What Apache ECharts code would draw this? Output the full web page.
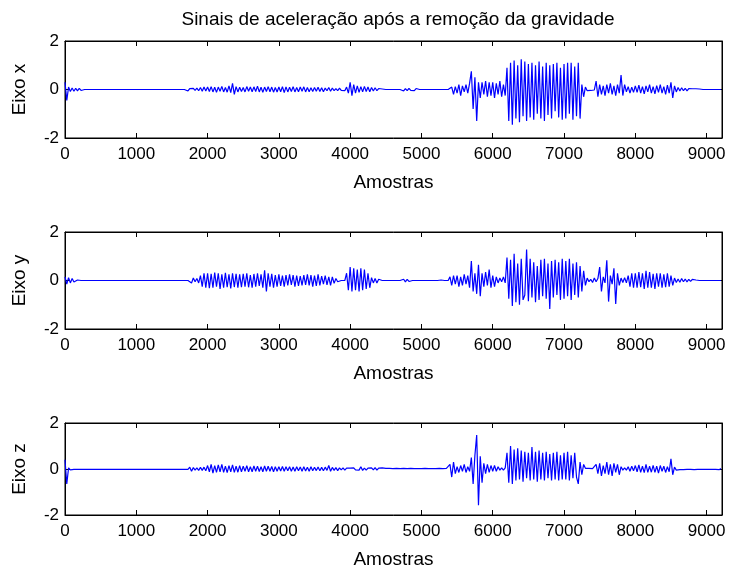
<!DOCTYPE html>
<html>
<head>
<meta charset="utf-8">
<title>Sinais de aceleração</title>
<script src="https://cdn.jsdelivr.net/npm/echarts@6/dist/echarts.min.js"></script>
<style>
  html, body { margin: 0; padding: 0; background: #fff; }
  #chart { width: 730px; height: 570px; }
</style>
</head>
<body>
<div id="chart"></div>
<script>
// Accelerometer signals with gravity removed, decimated to one value every SAMPLE_STEP samples.
const SAMPLE_STEP = 25;
const SAMPLE_COUNT = 9216;

const xTicks = [0, 1000, 2000, 3000, 4000, 5000, 6000, 7000, 8000, 9000];
const yTicks = [-2, 0, 2];
const axisTitles = ['Eixo x', 'Eixo y', 'Eixo z'];

// Eixo x (each row covers 500 samples)
const accelX = [
  0.3,-0.45,0.1,-0.08,0.06,-0.07,0.05,-0.06,0.05,-0.04,0,0,0,0,0,0,0,0,0,0,
  0,0,0,0,0,0,0,0,0,0,0,0,0,0,0,0,0,0,0,0,
  0,0,0,0,0,0,0,0,0,0,0,0,0,0,0,0,0,0,0,0,
  0,0,0,0,0,0,0,0,0.05,-0.06,0.04,-0.03,0.05,-0.04,0.06,-0.05,0.08,-0.07,0.1,-0.06,
  0.1,-0.08,0.12,-0.1,0.09,-0.12,0.1,-0.07,0.13,-0.1,0.08,-0.11,0.15,-0.13,0.25,-0.2,0.12,-0.1,0.09,-0.08,
  0.08,-0.1,0.12,-0.07,0.1,-0.09,0.11,-0.08,0.14,-0.1,0.09,-0.12,0.1,-0.08,0.12,-0.09,0.1,-0.11,0.08,-0.1,
  0.1,-0.09,0.12,-0.13,0.11,-0.1,0.09,-0.08,0.12,-0.1,0.08,-0.09,0.1,-0.07,0.11,-0.1,0.08,-0.09,0.07,-0.08,
  0.08,-0.07,0.09,-0.08,0.07,-0.09,0.06,-0.05,0.08,-0.07,0.06,-0.05,0.04,-0.05,0.06,-0.04,0.03,-0.05,0.1,-0.15,
  0.3,-0.25,0.2,-0.15,0.15,-0.12,0.12,-0.1,0.13,-0.08,0.1,-0.09,0.08,-0.06,0.07,-0.05,0.04,-0.03,0.02,0,
  0,0,0,0,0,0,0,0,0,0.05,-0.06,0.04,-0.05,0.05,-0.04,0.03,-0.05,0.04,-0.02,0,
  0,0,0,0,0,0,0,0,0,0,0,0,0,0,0,0,0,0.1,-0.2,0.12,
  -0.15,0.2,-0.25,0.15,-0.1,0.2,-0.15,0.25,0.75,-0.8,0.5,-1.3,0.3,-0.35,0.3,-0.2,0.35,-0.3,0.3,-0.25,
  0.3,-0.35,0.25,-0.2,0.35,-0.3,0.2,-0.25,0.9,-1.3,1.1,-1.45,1.2,-1.2,1.0,-1.35,1.25,-1.1,1.15,-1.3,
  1.05,-1.15,1.1,-1.25,1.0,-1.0,1.15,-1.2,0.95,-1.3,1.1,-1.05,1.0,-1.2,1.05,-0.9,1.1,-1.15,0.9,-1.25,
  1.05,-1.2,1.1,-1.0,1.1,-1.25,0.95,-1.1,1.1,-1.2,0.2,-0.3,0.1,-0.05,0.03,-0.04,0.03,-0.02,0.35,-0.3,
  0.2,-0.2,0.15,-0.25,0.2,-0.15,0.25,-0.2,0.15,-0.25,0.2,-0.15,0.6,-0.25,0.2,-0.1,0.12,-0.15,0.1,-0.12,
  0.15,-0.12,0.18,-0.15,0.12,-0.18,0.15,-0.1,0.2,-0.15,0.12,-0.18,0.16,-0.12,0.2,-0.15,0.12,-0.2,0.18,-0.15,
  0.3,-0.35,0.15,-0.1,0.08,-0.06,0.07,-0.05,0.05,-0.06,0.04,-0.03,0.03,-0.04,0.03,-0.02,0.02,0,0,0,
  0,0,0,0,0,0,0,0,0
];

// Eixo y
const accelY = [
  0.15,-0.15,0.12,-0.1,0.08,-0.06,-0.05,0.02,0,0,0,0,0,0,0,0,0,0,0,0,
  0,0,0,0,0,0,0,0,0,0,0,0,0,0,0,0,0,0,0,0,
  0,0,0,0,0,0,0,0,0,0,0,0,0,0,0,0,0,0,0,0,
  0,0,0,0,0,0,0,0,0,0,0.05,-0.1,0.1,-0.05,0.08,-0.1,0.2,-0.25,0.3,-0.3,
  0.3,-0.32,0.28,-0.3,0.33,-0.25,0.3,-0.35,0.25,-0.3,0.32,-0.28,0.25,-0.33,0.3,-0.27,0.28,-0.3,0.25,-0.28,
  0.28,-0.25,0.3,-0.28,0.22,-0.3,0.27,-0.25,0.3,-0.22,0.25,-0.3,0.42,-0.45,0.3,-0.25,0.28,-0.3,0.22,-0.25,
  0.25,-0.22,0.2,-0.25,0.22,-0.2,0.25,-0.18,0.22,-0.25,0.2,-0.22,0.18,-0.2,0.22,-0.18,0.25,-0.2,0.22,-0.25,
  0.2,-0.22,0.25,-0.2,0.18,-0.15,0.2,-0.18,0.15,-0.2,0.15,-0.12,0.08,-0.05,0.02,0,0,0,0.3,-0.4,
  0.55,-0.45,0.5,-0.4,0.45,-0.45,0.5,-0.4,0.45,-0.35,0.3,-0.3,0.12,-0.1,0.08,-0.1,0.05,-0.03,0,0,
  0,0,0,0,0,0,0,0,0,0,0.05,-0.06,0.05,-0.04,0,0,0,0,0,0,
  0,0,0,0,0,0,0,0,0,0,0,0.02,0,0,0,0,0.15,-0.2,0.2,-0.15,
  0.2,-0.25,0.15,-0.2,0.25,-0.15,0.2,-0.3,0.8,-0.45,0.3,-0.55,0.65,-0.65,0.3,-0.25,0.35,-0.2,0.45,-0.3,
  0.2,-0.25,0.15,-0.1,0.1,-0.05,0.15,-0.1,0.95,-0.75,0.85,-1.05,1.1,-0.9,0.7,-1.0,0.9,-0.8,-0.6,1.28,
  -0.85,0.9,-0.7,0.75,-0.9,0.6,-0.8,0.85,-0.65,0.9,-0.75,0.7,-1.17,0.8,-0.7,0.85,-0.6,0.75,-0.8,0.9,
  -0.75,0.8,-0.65,0.9,-0.8,0.7,-0.6,0.75,-0.7,0.6,-0.45,0.4,-0.2,0.1,-0.05,0.05,-0.08,0.1,-0.05,0.08,
  0.55,-0.45,0.15,-0.1,0.83,-0.87,0.2,-0.15,0.5,-0.97,0.3,-0.2,0.1,-0.08,0.12,-0.1,0.2,-0.25,0.3,-0.3,
  0.3,-0.3,0.35,-0.28,0.3,-0.35,0.4,-0.3,0.35,-0.3,0.28,-0.35,0.3,-0.25,0.3,-0.3,0.25,-0.28,0.3,-0.25,
  0.2,-0.2,0.1,-0.08,0.06,-0.07,0.08,-0.05,0.06,-0.06,0.05,-0.04,0.05,-0.03,0.02,-0.02,0,0,0,0,
  0,0,0,0,0,0,0,0,0
];

// Eixo z
const accelZ = [
  0.4,-0.65,0.05,-0.04,0.03,-0.02,0.02,-0.02,0.02,-0.01,0.02,-0.02,0.01,-0.02,0.02,-0.01,0.02,-0.02,0.01,-0.02,
  0.02,-0.01,0.02,-0.02,0.01,-0.02,0.02,-0.01,0.01,-0.02,0.02,-0.01,0.02,-0.02,0.01,-0.01,0.02,-0.02,0.01,-0.02,
  0.02,-0.01,0.02,-0.02,0.01,-0.02,0.02,-0.01,0.01,-0.02,0.02,-0.01,0.02,-0.02,0.01,-0.01,0.02,-0.02,0.01,-0.02,
  0.02,-0.01,0.02,-0.02,0.01,-0.02,0.02,-0.01,0.01,-0.02,0.08,-0.1,0.06,-0.05,0.05,-0.06,0.07,-0.06,0.08,-0.08,
  0.15,-0.12,0.2,-0.18,0.15,-0.15,0.18,-0.12,0.2,-0.15,0.12,-0.16,0.15,-0.12,0.18,-0.15,0.12,-0.14,0.15,-0.12,
  0.12,-0.1,0.14,-0.12,0.1,-0.12,0.13,-0.1,0.12,-0.11,0.1,-0.12,0.13,-0.1,0.12,-0.1,0.11,-0.12,0.1,-0.1,
  0.1,-0.09,0.11,-0.1,0.1,-0.08,0.1,-0.1,0.09,-0.1,0.1,-0.08,0.09,-0.1,0.1,-0.09,0.08,-0.1,0.1,-0.08,
  0.08,-0.07,0.09,-0.08,0.07,-0.08,0.08,-0.06,0.15,-0.1,0.07,-0.06,0.06,-0.07,0.05,-0.04,0.05,-0.05,0.04,-0.04,
  0.04,-0.03,0.05,-0.04,0.03,-0.05,0.1,-0.06,0.04,-0.05,0.04,-0.03,0.05,-0.04,0.06,-0.05,0.04,-0.04,0.05,-0.03,
  0.03,-0.02,0.03,-0.03,0.02,-0.03,0.03,-0.02,0.02,-0.03,0.03,-0.02,0.02,-0.02,0.03,-0.02,0.02,-0.03,0.02,-0.02,
  0.02,-0.02,0.03,-0.02,0.02,-0.02,0.02,-0.03,0.02,-0.02,0.03,-0.02,0.02,-0.02,0.03,-0.02,0.2,-0.35,0.3,-0.2,
  0.1,-0.15,0.15,-0.1,0.2,-0.15,0.1,-0.1,0.5,-0.65,0.6,1.48,-1.58,0.55,-0.6,0.25,-0.2,0.2,-0.15,0.15,
  -0.1,0.15,-0.1,0.1,-0.05,0.05,-0.05,0.05,0.7,-0.6,1.0,-0.65,0.85,-0.5,0.9,-0.45,0.8,-0.55,0.75,-0.4,
  0.7,-0.5,0.95,-0.45,0.75,-0.55,0.8,-0.45,0.7,-0.5,0.75,-0.4,0.65,-0.5,0.7,-0.45,0.75,-0.5,0.6,-0.45,
  0.7,-0.45,0.75,-0.5,0.6,-0.4,0.7,-0.35,-0.65,0.3,-0.25,0.2,0.03,-0.03,0.03,-0.02,0.02,-0.03,0.2,-0.2,
  0.25,-0.3,0.15,-0.2,0.3,-0.25,0.2,-0.3,0.25,-0.15,0.2,-0.25,0.1,-0.05,0.05,-0.05,0.1,-0.1,0.12,-0.08,
  0.15,-0.12,0.18,-0.15,0.12,-0.16,0.2,-0.15,0.12,-0.14,0.16,-0.15,0.12,-0.18,0.15,-0.1,0.12,-0.15,0.1,-0.12,
  0.44,-0.25,0.08,-0.05,0.03,-0.03,0.02,-0.03,0.02,-0.02,0.03,-0.02,0.02,-0.03,0.02,-0.02,0.03,-0.02,0.02,-0.02,
  0.02,-0.02,0.03,-0.02,0.02,-0.02,0.02,-0.03,0.02
];

const signals = [accelX, accelY, accelZ];

const FONT = '"Liberation Sans", Arial, sans-serif';
const TICK_FS = 17;
const LABEL_FS = 19;
const gridTops = [41, 232, 423];
const gridHeight = 97;

function toPoints(values) {
  return values.map((v, i) => [i * SAMPLE_STEP, v]);
}

const grids = [], xAxes = [], yAxes = [], series = [];
signals.forEach((values, k) => {
  grids.push({
    left: 65, top: gridTops[k], width: 657, height: gridHeight,
    show: true, borderColor: '#000', borderWidth: 1, backgroundColor: '#fff'
  });
  const xBase = {
    type: 'value', gridIndex: k, min: 0, max: SAMPLE_COUNT, interval: 1000,
    splitLine: { show: false },
    axisLine: { show: true, onZero: false, lineStyle: { color: '#000', width: 1 } },
    axisTick: { show: true, inside: true, length: 5, lineStyle: { color: '#000' } }
  };
  xAxes.push(Object.assign({}, xBase, {
    position: 'bottom',
    name: 'Amostras', nameLocation: 'middle', nameGap: 35,
    nameTextStyle: { color: '#000', fontFamily: FONT, fontSize: LABEL_FS },
    axisLabel: {
      color: '#000', fontFamily: FONT, fontSize: TICK_FS, margin: 8,
      formatter: v => (xTicks.indexOf(v) >= 0 ? String(v) : '')
    }
  }));
  xAxes.push(Object.assign({}, xBase, { position: 'top', axisLabel: { show: false } }));
  const yBase = {
    type: 'value', gridIndex: k, min: -2, max: 2, interval: 2,
    splitLine: { show: false },
    axisLine: { show: true, onZero: false, lineStyle: { color: '#000', width: 1 } },
    axisTick: { show: true, inside: true, length: 5, lineStyle: { color: '#000' } }
  };
  yAxes.push(Object.assign({}, yBase, {
    position: 'left',
    name: axisTitles[k], nameLocation: 'middle', nameGap: 36,
    nameTextStyle: { color: '#000', fontFamily: FONT, fontSize: LABEL_FS },
    axisLabel: {
      color: '#000', fontFamily: FONT, fontSize: TICK_FS, margin: 6,
      formatter: v => (yTicks.indexOf(v) >= 0 ? String(v) : '')
    }
  }));
  yAxes.push(Object.assign({}, yBase, { position: 'right', axisLabel: { show: false } }));
  series.push({
    type: 'line', xAxisIndex: 2 * k, yAxisIndex: 2 * k,
    data: toPoints(values), showSymbol: false, symbol: 'none',
    lineStyle: { color: '#0000ff', width: 1.2 }, itemStyle: { color: '#0000ff' },
    animation: false, clip: true
  });
});

const chart = echarts.init(document.getElementById('chart'), null, { renderer: 'canvas' });
chart.setOption({
  backgroundColor: '#fff',
  animation: false,
  title: {
    text: 'Sinais de aceleração após a remoção da gravidade',
    left: 393, top: 5, textAlign: 'center',
    textStyle: { color: '#000', fontFamily: FONT, fontSize: LABEL_FS, fontWeight: 'normal' }
  },
  grid: grids,
  xAxis: xAxes,
  yAxis: yAxes,
  series: series
});
</script>
</body>
</html>
